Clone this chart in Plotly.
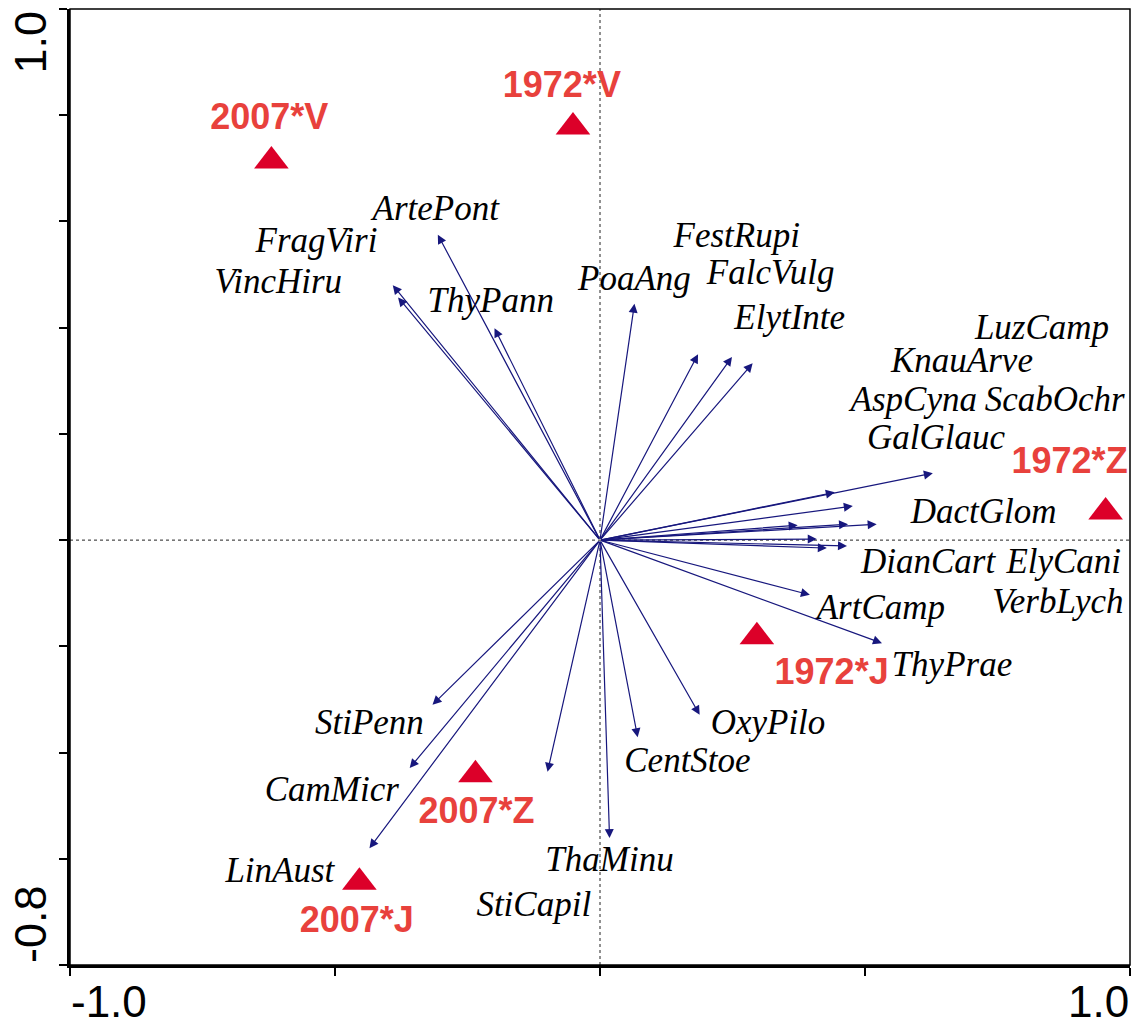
import plotly.graph_objects as go

# ---- species (environmental/species arrows) ----
species = ["ArtePont", "FragViri", "VincHiru", "ThyPann", "PoaAng", "FestRupi",
           "FalcVulg", "ElytInte", "LuzCamp", "KnauArve", "AspCyna", "ScabOchr",
           "GalGlauc", "DactGlom", "DianCart", "ElyCani", "VerbLych", "ArtCamp",
           "ThyPrae", "OxyPilo", "CentStoe", "ThaMinu", "StiCapil", "StiPenn",
           "CamMicr", "LinAust"]
sp_x = [-0.306, -0.391, -0.381, -0.199, 0.065, 0.185, 0.249, 0.288, 0.628, 0.443,
        0.477, 0.522, 0.468, 0.373, 0.409, 0.466, 0.428, 0.396, 0.532, 0.188,
        0.071, 0.018, -0.099, -0.316, -0.359, -0.435]
sp_y = [0.575, 0.480, 0.457, 0.399, 0.445, 0.350, 0.345, 0.333, 0.126, 0.090,
        0.064, 0.030, 0.030, 0.028, 0.002, -0.011, -0.015, -0.103, -0.194, -0.329,
        -0.371, -0.561, -0.436, -0.310, -0.429, -0.580]
lab_x = [-0.310, -0.535, -0.607, -0.206, 0.065, 0.258, 0.322, 0.358, 0.834, 0.683,
         0.592, 0.858, 0.634, 0.724, 0.619, 0.875, 0.864, 0.530, 0.664, 0.317,
         0.165, 0.018, -0.125, -0.435, -0.506, -0.604]
lab_y = [0.619, 0.559, 0.482, 0.446, 0.488, 0.569, 0.499, 0.414, 0.396, 0.333,
         0.260, 0.260, 0.188, 0.049, -0.045, -0.045, -0.120, -0.132, -0.239, -0.348,
         -0.420, -0.606, -0.691, -0.348, -0.474, -0.627]

# ---- samples (triangles) ----
samples = ["2007*V", "1972*V", "1972*Z", "1972*J", "2007*Z", "2007*J"]
smp_x = [-0.620, -0.051, 0.954, 0.296, -0.235, -0.454]
smp_y = [0.714, 0.778, 0.053, -0.182, -0.442, -0.644]
smp_lab_x = [-0.624, -0.072, 0.886, 0.437, -0.233, -0.459]
smp_lab_y = [0.791, 0.851, 0.143, -0.254, -0.516, -0.721]

# ---- axes ----
x_tickvals = [-1.0, -0.5, 0.0, 0.5, 1.0]
y_tickvals = [-0.8, -0.6, -0.4, -0.2, 0.0, 0.2, 0.4, 0.6, 0.8, 1.0]
x_range = [-1.0, 1.0]
y_range = [-0.8, 1.0]
x_end_labels = ["-1.0", "1.0"]
y_end_labels = ["-0.8", "1.0"]

NAVY = "#17177d"
RED_TRI = "#dc0029"
RED_TXT = "#e8413c"

fig = go.Figure()

# triangles
fig.add_trace(go.Scatter(
    x=smp_x, y=smp_y, mode="markers",
    marker=dict(symbol="triangle-up", size=30, color=RED_TRI, line=dict(width=0)),
    hoverinfo="skip", showlegend=False))

# sample labels
fig.add_trace(go.Scatter(
    x=smp_lab_x, y=smp_lab_y, mode="text", text=samples,
    textposition="middle center", cliponaxis=False,
    textfont=dict(family="Liberation Sans, Arial", size=36, color=RED_TXT, weight="bold"),
    hoverinfo="skip", showlegend=False))

# species labels
fig.add_trace(go.Scatter(
    x=lab_x, y=lab_y, mode="text", text=species,
    textposition="middle center", cliponaxis=False,
    textfont=dict(family="Liberation Serif, Times New Roman", size=35, color="#000000",
                  style="italic"),
    hoverinfo="skip", showlegend=False))

annotations = []
for sx, sy in zip(sp_x, sp_y):
    annotations.append(dict(
        x=sx, y=sy, ax=0, ay=0, xref="x", yref="y", axref="x", ayref="y",
        text="", showarrow=True, arrowhead=2, arrowsize=1.5, arrowwidth=1.2,
        arrowcolor=NAVY, standoff=0, startstandoff=0))

# axis end labels
annotations.append(dict(x=x_range[0], y=0, xref="x", yref="paper", text=x_end_labels[0],
                        showarrow=False, xanchor="left", yanchor="top", yshift=-11,
                        borderpad=0,
                        font=dict(family="Liberation Sans, Arial", size=44, color="black")))
annotations.append(dict(x=x_range[1], y=0, xref="x", yref="paper", text=x_end_labels[1],
                        showarrow=False, xanchor="right", yanchor="top", yshift=-11,
                        borderpad=0,
                        font=dict(family="Liberation Sans, Arial", size=44, color="black")))
annotations.append(dict(x=0, y=y_range[0], xref="paper", yref="y", text=y_end_labels[0],
                        showarrow=False, xanchor="center", yanchor="bottom", xshift=-40,
                        textangle=-90,
                        font=dict(family="Liberation Sans, Arial", size=45, color="black")))
annotations.append(dict(x=0, y=y_range[1], xref="paper", yref="y", text=y_end_labels[1],
                        showarrow=False, xanchor="center", yanchor="top", xshift=-40,
                        textangle=-90,
                        font=dict(family="Liberation Sans, Arial", size=45, color="black")))

shapes = [
    dict(type="line", xref="x", yref="y", x0=0, x1=0, y0=y_range[0], y1=y_range[1],
         line=dict(color="#222222", width=1, dash="3px,3px"), layer="below"),
    dict(type="line", xref="x", yref="y", x0=x_range[0], x1=x_range[1], y0=0, y1=0,
         line=dict(color="#222222", width=1, dash="3px,3px"), layer="below"),
    dict(type="rect", xref="paper", yref="paper", x0=0, x1=1, y0=0, y1=1,
         line=dict(color="black", width=1.5), layer="above"),
]

fig.update_layout(
    width=1134, height=1025,
    margin=dict(l=70, r=4, t=9, b=60),
    paper_bgcolor="white", plot_bgcolor="white",
    showlegend=False,
    annotations=annotations,
    shapes=shapes,
    xaxis=dict(range=x_range, tickvals=x_tickvals, showticklabels=False,
               ticks="outside", ticklen=8, tickwidth=2, tickcolor="black",
               showline=True, linewidth=3, linecolor="black",
               showgrid=False, zeroline=False, fixedrange=True),
    yaxis=dict(range=y_range, tickvals=y_tickvals, showticklabels=False,
               ticks="outside", ticklen=8, tickwidth=2, tickcolor="black",
               showline=True, linewidth=3, linecolor="black",
               showgrid=False, zeroline=False, fixedrange=True),
)

fig.write_html(
    "out.html",
    config={"displayModeBar": False},
    post_script="document.body.style.margin='0px';document.body.style.overflow='hidden';",
)
